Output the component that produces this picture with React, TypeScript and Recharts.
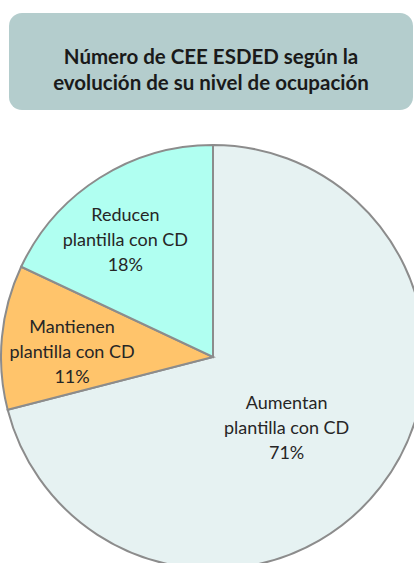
import React from "react";
import { PieChart, Pie, Cell } from "recharts";

const categories = ["Aumentan", "Mantienen", "Reducen"];
const values = [71, 11, 18];
const labelLines = ["plantilla con CD", "plantilla con CD", "plantilla con CD"];
const colors = ["#E6F2F2", "#FFC46B", "#B0FFF1"];

const data = categories.map((c, i) => ({ name: c, sub: labelLines[i], value: values[i] }));

const RAD = Math.PI / 180;
const labelPolar: Record<number, { r: number; da: number }> = {
  0: { r: 102, da: -6 },
  1: { r: 141, da: 3.5 },
  2: { r: 146, da: 4.5 },
};

const renderLabel = (props: any) => {
  const { cx, cy, midAngle, index, payload } = props;
  const p = labelPolar[index];
  const a = (midAngle + p.da) * RAD;
  const x = cx + p.r * Math.cos(a);
  const y = cy - p.r * Math.sin(a);
  const name = payload?.name ?? data[index].name;
  const sub = payload?.sub ?? data[index].sub;
  const val = payload?.value ?? data[index].value;
  return (
    <text
      x={x}
      y={y}
      textAnchor="middle"
      fill="#262626"
      fontFamily="Lato, 'Open Sans', sans-serif"
      fontSize={18}
    >
      <tspan x={x} dy={-25 + 6}>{name}</tspan>
      <tspan x={x} dy={25}>{sub}</tspan>
      <tspan x={x} dy={25}>{`${val}%`}</tspan>
    </text>
  );
};

export default function App() {
  return (
    <div style={{ position: "absolute", left: 0, top: 0, width: 414, height: 563, overflow: "hidden", background: "#fff" }}>
      <div
        style={{
          position: "absolute",
          left: 9,
          top: 13,
          width: 404,
          height: 97,
          borderRadius: 13,
          background: "#B4CDCD",
          display: "flex",
          alignItems: "center",
          justifyContent: "center",
          textAlign: "center",
          boxSizing: "border-box",
          paddingTop: 14,
          fontFamily: "Lato, 'Open Sans', sans-serif",
          fontWeight: 700,
          fontSize: 20.5,
          lineHeight: "26px",
          color: "#1a1a1a",
        }}
      >
        <div>
          Número de CEE ESDED según la
          <br />
          evolución de su nivel de ocupación
        </div>
      </div>
      <div style={{ position: "absolute", left: 0, top: 0 }}>
        <PieChart width={414} height={563} margin={{ top: 0, right: 0, bottom: 0, left: 0 }}>
          <Pie
            data={data}
            dataKey="value"
            nameKey="name"
            cx={213}
            cy={357}
            outerRadius={212}
            startAngle={90}
            endAngle={-270}
            stroke="#8C8C8C"
            strokeWidth={2}
            isAnimationActive={false}
            labelLine={false}
            label={renderLabel}
          >
            {data.map((d, i) => (
              <Cell key={d.name} fill={colors[i]} />
            ))}
          </Pie>
        </PieChart>
      </div>
    </div>
  );
}
